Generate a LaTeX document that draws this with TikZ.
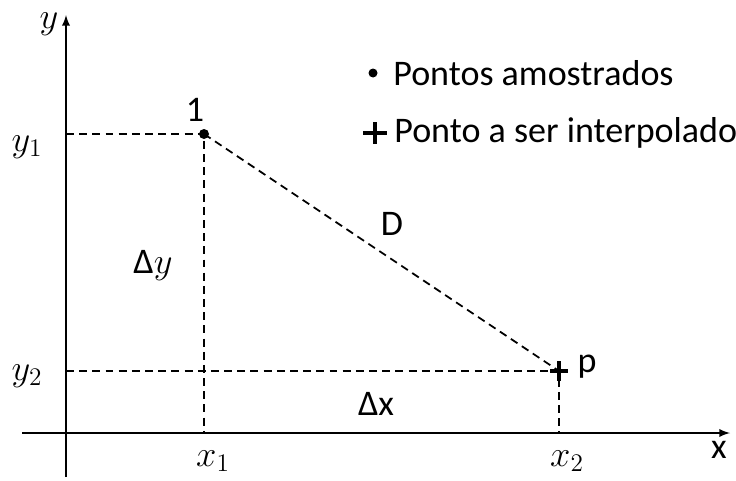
\documentclass[tikz,border=0pt]{standalone}
\usepackage{fontspec}
\setmainfont{Carlito}
\usepackage{tikz}
\usetikzlibrary{arrows,positioning,calc}

\begin{document}
\begin{tikzpicture}[x=0.02cm, y=-0.02cm,
    axis/.style={draw, line width=1.1pt, -latex},
    guide/.style={draw, line width=1pt, dash pattern=on 4.5pt off 3pt},
    lbl/.style={font=\fontsize{20.5}{24}\selectfont, inner sep=0pt}]
\useasboundingbox (0,0) rectangle (736,480);
% axes
\coordinate (xstart) at (22,433);
\coordinate (xend) at (730,433);
\coordinate (ybot) at (66,477);
\coordinate (ytop) at (66,15);
\draw[axis] (xstart) -- (xend);
\draw[axis] (ybot) -- (ytop);
\node[lbl] (xlab) at (719,450) {x};
\node[lbl] (ylab) at (49,24) {$y$};
% points
\coordinate (pt1) at (204,134);
\coordinate (ptp) at (559,371);
\draw[guide] (pt1 -| ybot) -- (pt1) -- (pt1 |- xend);
\draw[guide] (ptp -| ybot) -- (ptp) -- (ptp |- xend);
\draw[guide] (pt1) -- (ptp);
\fill (pt1) circle (5);
\draw[line width=2.2pt] ($(ptp)+(-9,0)$) -- ($(ptp)+(9,0)$) ($(ptp)+(0,-10)$) -- ($(ptp)+(0,10)$);
% labels
\node[lbl] (one) at (195,110) {1};
\node[lbl] (plab) at (587,367) {p};
\node[lbl] (dlab) at (392,224) {D};
\node[lbl] (dy) at (153,265) {Δ$y$};
\node[lbl] (dx) at (376,404) {Δx};
\node[lbl] (y1) at (27,147) {$y_1$};
\node[lbl] (y2) at (27,376) {$y_2$};
\node[lbl] (x1) at (213,461) {$x_1$};
\node[lbl] (x2) at (567,461) {$x_2$};
% legend
\fill (373,73) circle (4.5);
\node[lbl, anchor=west] (leg1) at (393,73) {Pontos amostrados};
\draw[line width=2.2pt] (363,133) -- (387,133) (375,122) -- (375,144);
\node[lbl, anchor=west] (leg2) at (394,133) {Ponto a ser interpolado};
\end{tikzpicture}
\end{document}
